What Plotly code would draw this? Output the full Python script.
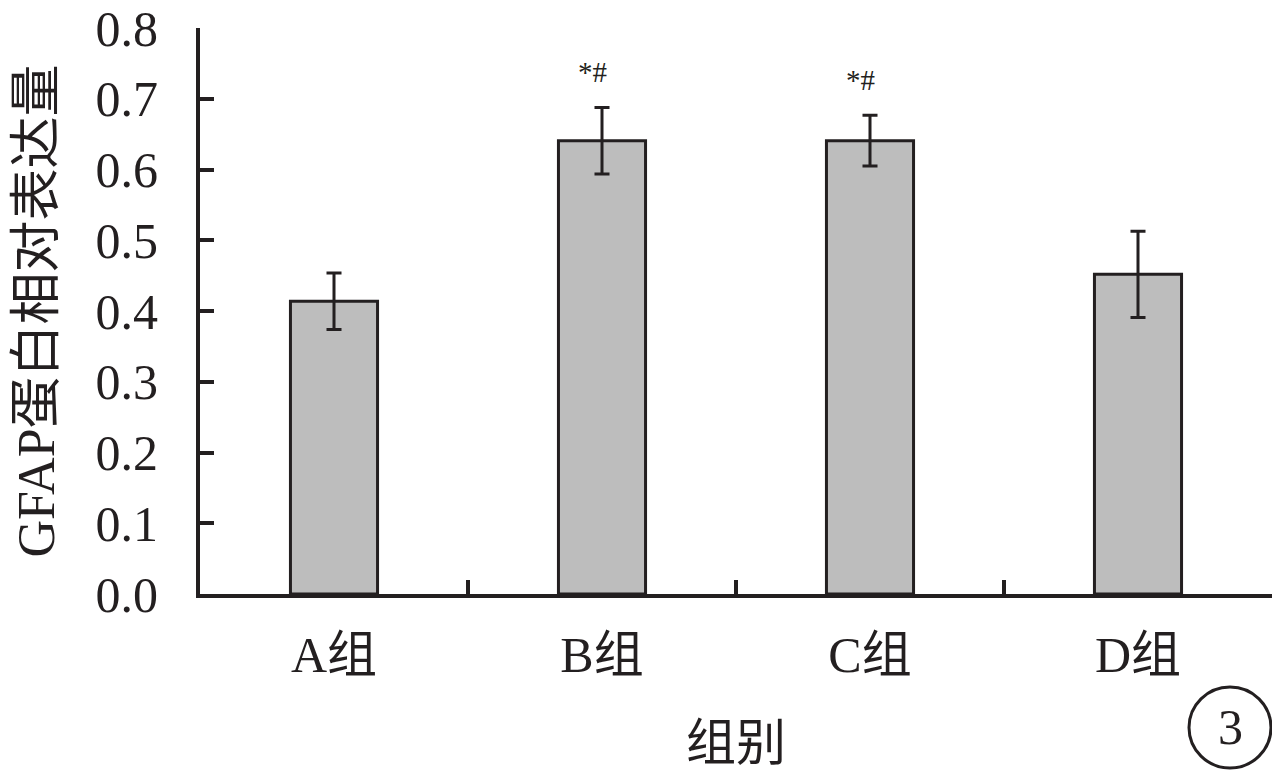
import plotly.graph_objects as go

categories = ["A组", "B组", "C组", "D组"]
values = [0.414, 0.641, 0.641, 0.452]
errors = [0.040, 0.047, 0.036, 0.061]
sig_labels = ["", "*#", "*#", ""]
y_ticks = [0.0, 0.1, 0.2, 0.3, 0.4, 0.5, 0.6, 0.7, 0.8]
y_tick_text = ["0.0", "0.1", "0.2", "0.3", "0.4", "0.5", "0.6", "0.7", "0.8"]

INK = "#231f20"
FONT = "Liberation Serif, Times New Roman, Noto Sans CJK SC, serif"

# figure is drawn inside the page body, which has an 8px margin
OFF = 8
W, H = 1280, 778
L, R, T, B = 192, 16, 20, 192
pw, ph = W - L - R, H - T - B


def px(xp):
    return (xp - OFF - L) / pw


def py(yp):
    return (H - B - (yp - OFF)) / ph


fig = go.Figure()
fig.add_trace(go.Bar(
    x=categories, y=values, width=0.325,
    marker=dict(color="#bdbdbd", line=dict(color=INK, width=3)),
    error_y=dict(type="data", array=errors, visible=True,
                 color=INK, thickness=3, width=7.5),
    showlegend=False,
))

annotations = []
for c, v, e, s in zip(categories, values, errors, sig_labels):
    if s:
        annotations.append(dict(x=c, y=v + e + 0.05, xref="x", yref="y",
                                text=s, showarrow=False, xshift=-10,
                                font=dict(family=FONT, size=29, color=INK),
                                yanchor="middle"))

annotations.append(dict(x=px(1230), y=py(727), xref="paper", yref="paper", text="3",
                        showarrow=False, xanchor="center", yanchor="middle",
                        font=dict(family=FONT, size=50, color=INK)))

fig.update_layout(
    width=W, height=H,
    margin=dict(l=L, r=R, t=T, b=B, autoexpand=False),
    paper_bgcolor="white", plot_bgcolor="white",
    font=dict(family=FONT, size=50, color=INK),
    xaxis=dict(
        type="category", automargin=False,
        showline=True, linecolor=INK, linewidth=4,
        ticks="inside", ticklen=14, tickwidth=4, tickcolor=INK,
        tickson="boundaries",
        showgrid=False, zeroline=False,
        tickfont=dict(family=FONT, size=50, color=INK),
        ticklabelstandoff=14,
        title=dict(text="组别", font=dict(family=FONT, size=50, color=INK), standoff=44),
    ),
    yaxis=dict(
        range=[0, 0.8003], automargin=False,
        tickvals=y_ticks, ticktext=y_tick_text,
        showline=True, linecolor=INK, linewidth=4,
        ticks="inside", ticklen=14, tickwidth=4, tickcolor=INK,
        showgrid=False, zeroline=False,
        tickfont=dict(family=FONT, size=50, color=INK),
        ticklabelstandoff=28, ticklabeloverflow="allow",
        title=dict(text="GFAP蛋白相对表达量", font=dict(family=FONT, size=52, color=INK), standoff=30),
    ),
    annotations=annotations,
)

fig.add_shape(type="circle", xref="paper", yref="paper",
              x0=px(1189), x1=px(1271), y0=py(768), y1=py(687),
              line=dict(color=INK, width=3))

fig.write_html("out.html")
